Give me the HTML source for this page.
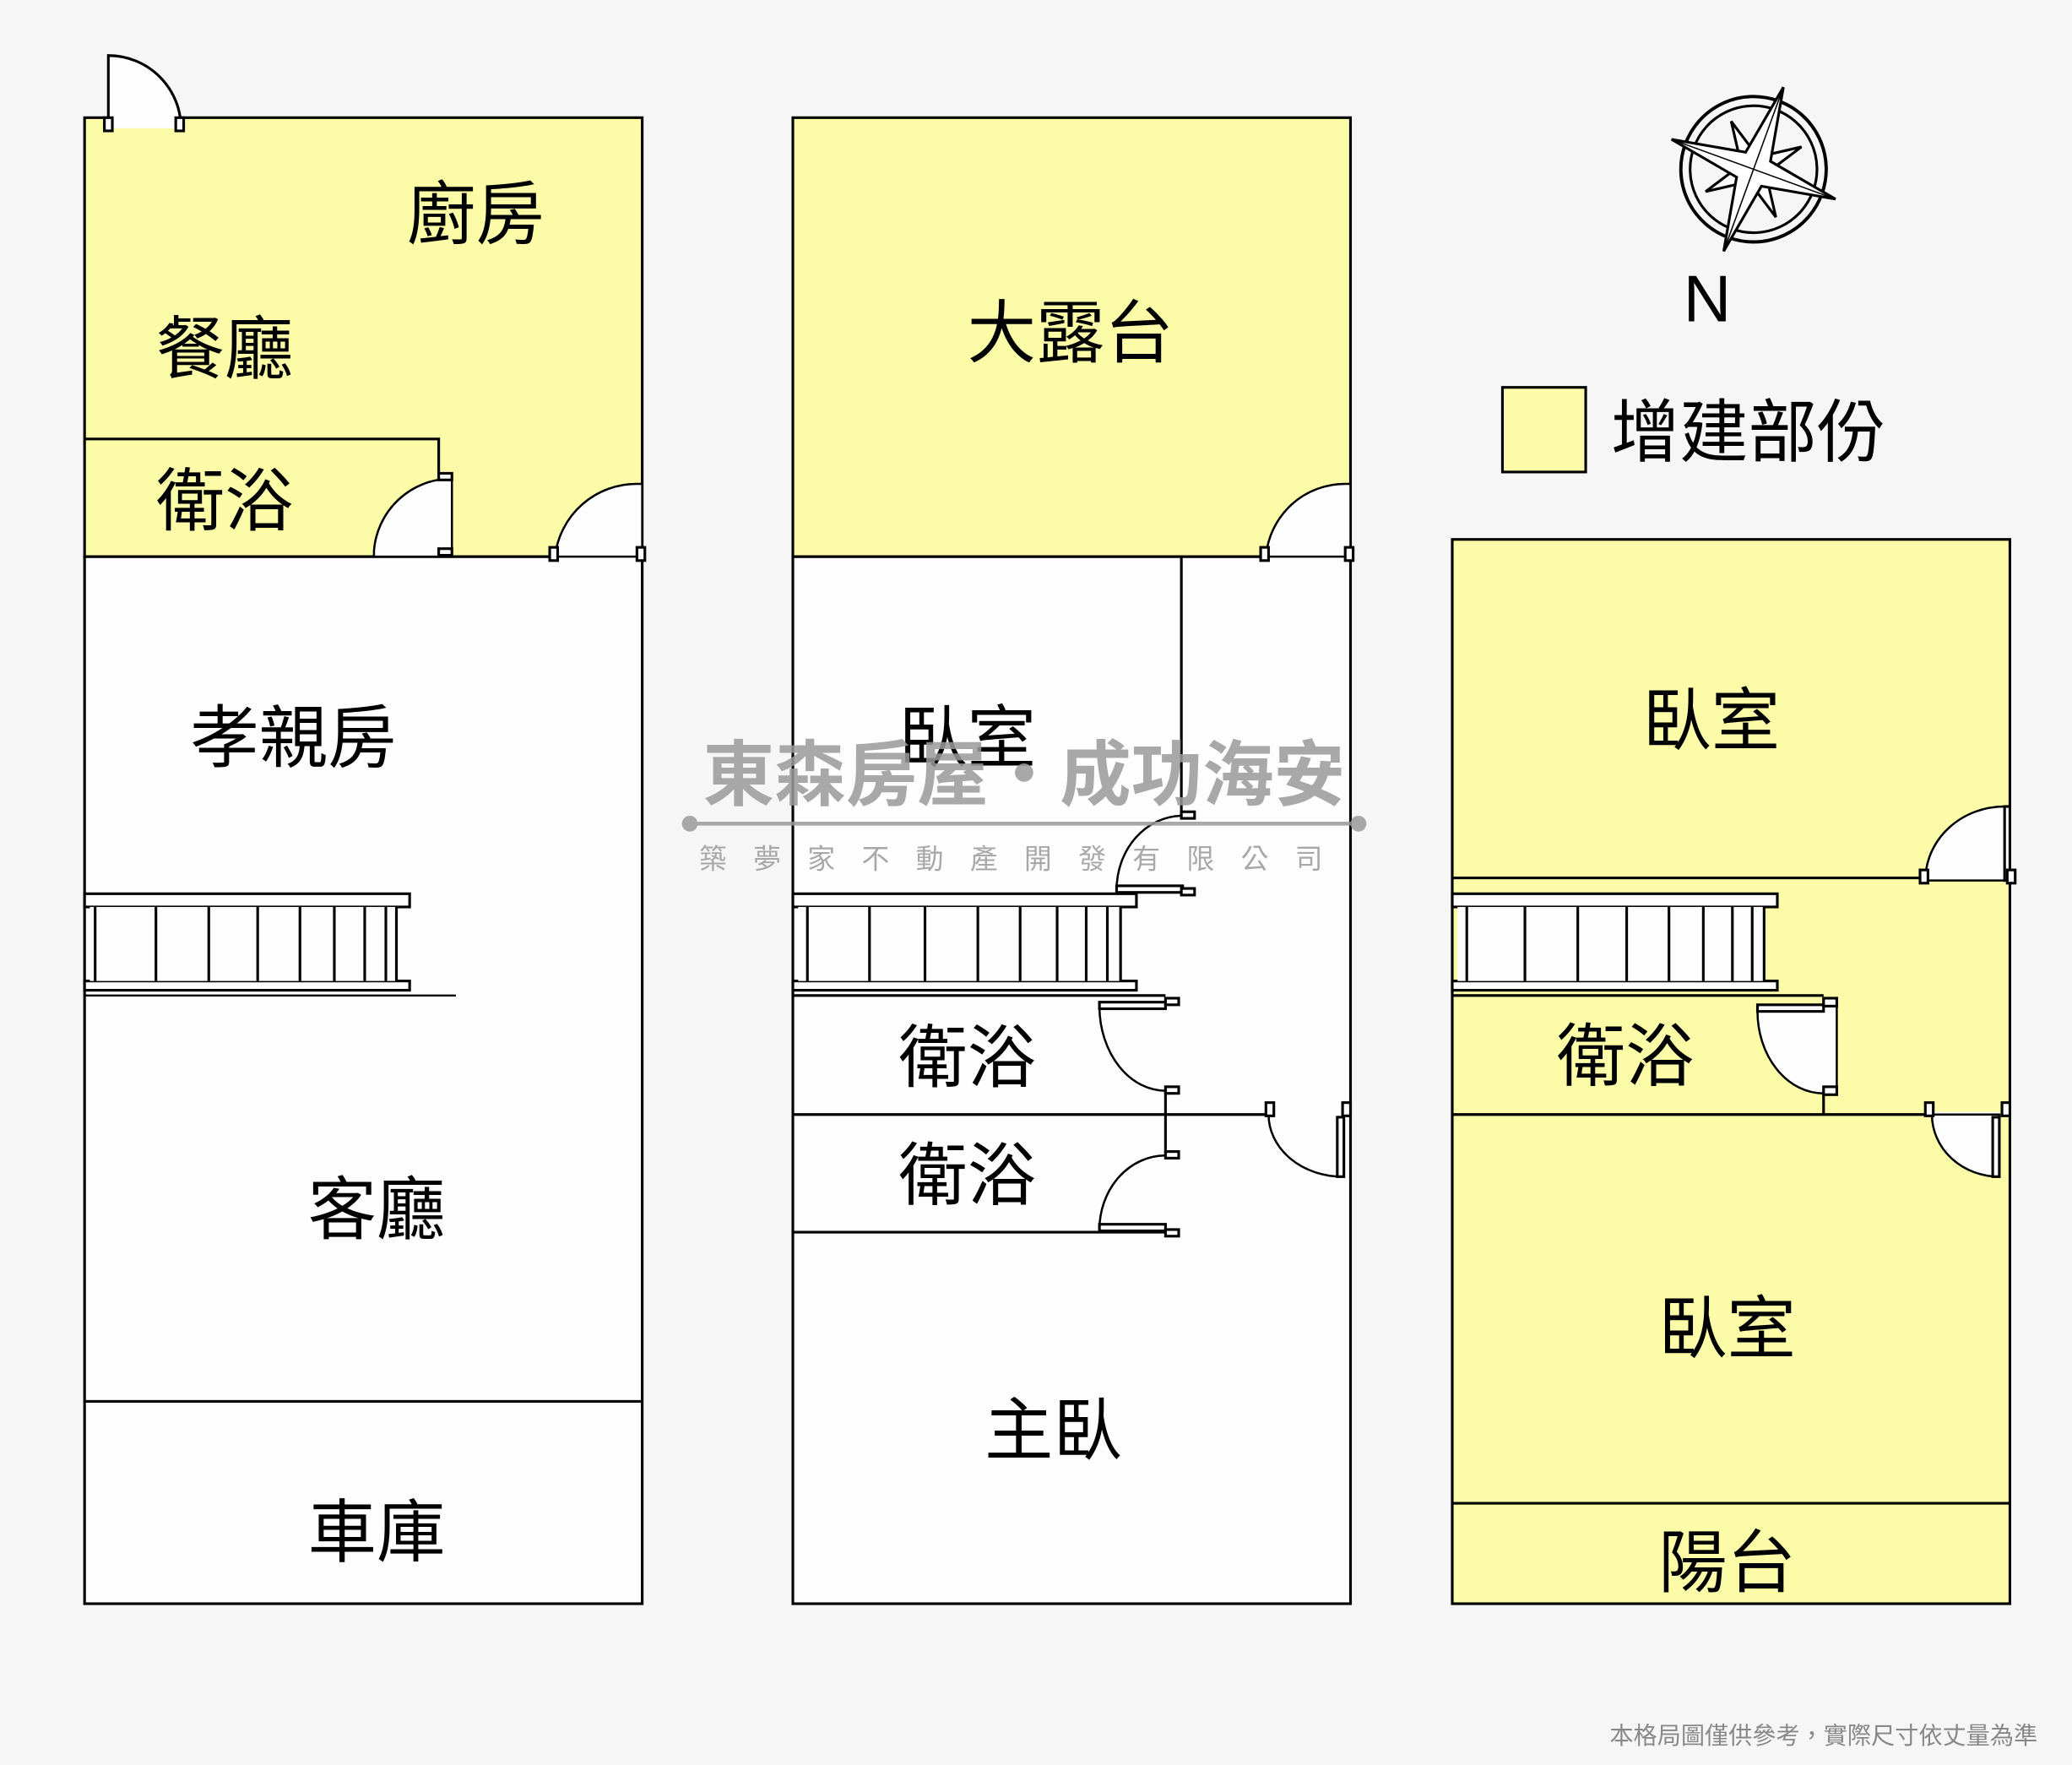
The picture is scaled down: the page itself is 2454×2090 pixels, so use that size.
<!DOCTYPE html>
<html><head><meta charset="utf-8"><style>
html,body{margin:0;padding:0;background:#f6f6f6}
svg{display:block}
text{font-family:"Liberation Sans","Noto Sans CJK TC",sans-serif}
</style></head><body>
<svg width="2454" height="2090" viewBox="0 0 1568 1335" preserveAspectRatio="none" xmlns="http://www.w3.org/2000/svg">
<rect width="1568" height="1335" fill="#f6f6f6"/>
<g fill="none" stroke="#000" stroke-width="2">
<rect x="64" y="421" width="422" height="792" fill="#fdfdfd"/>
<rect x="64" y="89" width="422" height="332" fill="#fbfba8"/>
<path d="M64 332 H332 V421"/>
<line x1="64" y1="1060" x2="486" y2="1060"/>
<rect x="600" y="421" width="422" height="792" fill="#fdfdfd"/>
<rect x="600" y="89" width="422" height="332" fill="#fbfba8"/>
<line x1="894" y1="421" x2="894" y2="617"/>
<line x1="600" y1="843" x2="960" y2="843"/>
<line x1="600" y1="932" x2="882" y2="932"/>
<line x1="882" y1="825" x2="882" y2="874"/>
<line x1="600" y1="753" x2="882" y2="753"/>
<rect x="1099" y="408" width="422" height="805" fill="#fbfba8"/>
<line x1="1099" y1="664" x2="1457" y2="664"/>
<line x1="1099" y1="753" x2="1380" y2="753"/>
<line x1="1099" y1="843" x2="1462" y2="843"/>
<line x1="1380" y1="825" x2="1380" y2="843"/>
<line x1="1099" y1="1137" x2="1521" y2="1137"/>
<rect x="1137" y="293" width="63" height="64" fill="#fbfba8"/>
</g>
<g fill="#fdfdfd" stroke="none">
<rect x="84" y="88" width="52" height="4"/>
<rect x="333" y="362" width="9" height="58"/>
<rect x="420" y="418" width="64" height="6"/>
<rect x="958" y="418" width="62" height="6"/>
<rect x="1381" y="760" width="9" height="66"/>
<rect x="1462" y="841" width="51" height="4"/>
</g>
<g fill="#fdfdfd" stroke="#000" stroke-width="2">
<path d="M82 97 V42 A55 55 0 0 1 137 97"/>
<rect x="79" y="89" width="6" height="10"/><rect x="133" y="89" width="6" height="10"/>
<path d="M283 417 A59 59 0 0 1 342 362 V421 H283 Z" stroke-width="1.6"/>
<rect x="332" y="358" width="10" height="5"/><rect x="332" y="415" width="10" height="5"/>
<path d="M482 366 A62 62 0 0 0 420 421 H486 V366 Z" stroke-width="1.6"/>
<rect x="416" y="414" width="6" height="10"/><rect x="482" y="414" width="6" height="10"/>
<path d="M1018 366 A60 60 0 0 0 958 421 H1022 V366 Z" stroke-width="1.6"/>
<rect x="954" y="414" width="6" height="10"/><rect x="1018" y="414" width="6" height="10"/>
<path d="M894 617 A50 56 0 0 0 845 673 H894" fill="none" stroke-width="1.6"/>
<rect x="894" y="614" width="10" height="5"/><rect x="845" y="670" width="50" height="5"/><rect x="894" y="672" width="10" height="5"/>
<path d="M832 762 A50 64 0 0 0 882 825" fill="none" stroke-width="1.6"/>
<rect x="832" y="758" width="50" height="5"/><rect x="882" y="755" width="10" height="5"/><rect x="882" y="822" width="10" height="5"/>
<path d="M882 874 A50 56 0 0 0 832 930" fill="none" stroke-width="1.6"/>
<rect x="832" y="926" width="50" height="5"/><rect x="882" y="871" width="10" height="5"/><rect x="882" y="930" width="10" height="5"/>
<path d="M960 843 A56 47 0 0 0 1016 890" fill="none" stroke-width="1.6"/>
<rect x="958" y="834" width="6" height="10"/><rect x="1016" y="834" width="6" height="10"/><rect x="1012" y="845" width="5" height="45"/>
<path d="M1517 610 A60 56 0 0 0 1457 666 H1521 V610 Z" stroke-width="1.6"/>
<rect x="1517" y="610" width="4" height="56"/>
<rect x="1453" y="658" width="6" height="10"/><rect x="1519" y="658" width="6" height="10"/>
<path d="M1330 765 A50 62 0 0 0 1380 827 H1390 V760 H1330 Z" stroke-width="1.6"/>
<rect x="1330" y="760" width="50" height="5"/><rect x="1380" y="755" width="10" height="6"/><rect x="1380" y="822" width="10" height="6"/>
<path d="M1462 843 A51 47 0 0 0 1513 890 V843 Z" stroke-width="1.6"/>
<rect x="1508" y="845" width="5" height="45"/>
<rect x="1457" y="834" width="6" height="10"/><rect x="1515" y="834" width="6" height="10"/>
</g>
<g stroke="#000" stroke-width="2" fill="#fdfdfd">
<rect x="64" y="676" width="246" height="10"/><rect x="64" y="742" width="246" height="7"/>
<rect x="600" y="676" width="260" height="10"/><rect x="600" y="742" width="260" height="7"/>
<rect x="1099" y="676" width="246" height="10"/><rect x="1099" y="742" width="246" height="7"/>
<rect x="1103" y="686" width="232" height="56" stroke="none"/>
<rect x="68" y="686" width="232" height="56" stroke="none"/>
<rect x="604" y="686" width="244" height="56" stroke="none"/>
<line x1="64" y1="753" x2="345" y2="753" stroke-width="1.5"/>
</g>
<g stroke="#000" stroke-width="2">
<line x1="72" y1="686" x2="72" y2="742"/><line x1="118" y1="686" x2="118" y2="742"/><line x1="158" y1="686" x2="158" y2="742"/><line x1="195" y1="686" x2="195" y2="742"/><line x1="227" y1="686" x2="227" y2="742"/><line x1="253" y1="686" x2="253" y2="742"/><line x1="276" y1="686" x2="276" y2="742"/><line x1="292" y1="686" x2="292" y2="742"/><line x1="300" y1="686" x2="300" y2="742"/>
<line x1="611" y1="686" x2="611" y2="742"/><line x1="658" y1="686" x2="658" y2="742"/><line x1="700" y1="686" x2="700" y2="742"/><line x1="740" y1="686" x2="740" y2="742"/><line x1="772" y1="686" x2="772" y2="742"/><line x1="800" y1="686" x2="800" y2="742"/><line x1="822" y1="686" x2="822" y2="742"/><line x1="838" y1="686" x2="838" y2="742"/><line x1="848" y1="686" x2="848" y2="742"/>
<line x1="1110" y1="686" x2="1110" y2="742"/><line x1="1154" y1="686" x2="1154" y2="742"/><line x1="1194" y1="686" x2="1194" y2="742"/><line x1="1231" y1="686" x2="1231" y2="742"/><line x1="1263" y1="686" x2="1263" y2="742"/><line x1="1289" y1="686" x2="1289" y2="742"/><line x1="1311" y1="686" x2="1311" y2="742"/><line x1="1326" y1="686" x2="1326" y2="742"/><line x1="1335" y1="686" x2="1335" y2="742"/>
</g>
<g transform="translate(1327,128) rotate(20)" fill="#fff" stroke="#000" stroke-width="2">
<circle r="55" fill="none" stroke-width="2.5"/><circle r="48" fill="none"/>
<polygon points="0,-40 7,-7 40,0 7,7 0,40 -7,7 -40,0 -7,-7" transform="rotate(45)"/>
<polygon points="0,-66 10,-10 66,0 10,10 0,66 -10,10 -66,0 -10,-10"/>
<path d="M0 -66 L0 66 M-66 0 L66 0" stroke-width="1"/>
</g>
<text x="1292" y="243" font-size="50" text-anchor="middle" fill="#000">N</text>
<g font-size="52" fill="#000" text-anchor="middle">
<text x="360" y="180">廚房</text>
<text x="170" y="282">餐廳</text>
<text x="170" y="397">衛浴</text>
<text x="222" y="576">孝親房</text>
<text x="285" y="933">客廳</text>
<text x="285" y="1177">車庫</text>
<text x="810" y="270">大露台</text>
<text x="732" y="576">臥室</text>
<text x="732" y="818">衛浴</text>
<text x="732" y="907">衛浴</text>
<text x="797" y="1100">主臥</text>
<text x="1295" y="563">臥室</text>
<text x="1230" y="817">衛浴</text>
<text x="1307" y="1023">臥室</text>
<text x="1307" y="1200">陽台</text>
<text x="1323" y="345">增建部份</text>
</g>
<g fill="#9a9a9a" opacity="0.85">
<text x="775" y="605" font-size="54" font-weight="bold" text-anchor="middle">東森房屋・成功海安</text>
<line x1="522" y1="623" x2="1028" y2="623" stroke="#9a9a9a" stroke-width="3"/>
<circle cx="522" cy="623" r="6"/><circle cx="1028" cy="623" r="6"/>
<text x="775" y="657" font-size="21" text-anchor="middle" letter-spacing="20">築夢家不動產開發有限公司</text>
</g>
<text x="1380" y="1319" font-size="18" fill="#888" text-anchor="middle">本格局圖僅供參考，實際尺寸依丈量為準</text>
</svg>
</body></html>
